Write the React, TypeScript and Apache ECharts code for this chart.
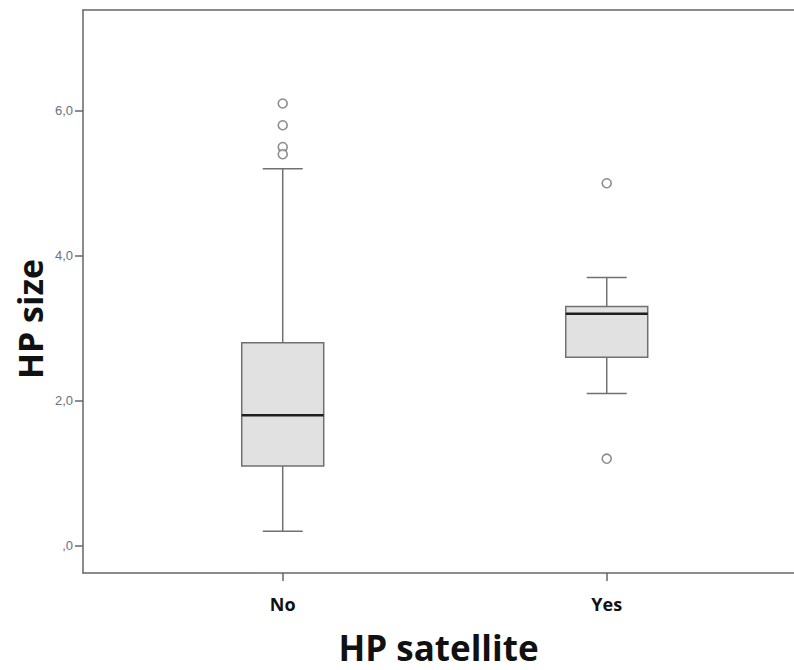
import React, { useEffect, useRef } from "react";
import * as echarts from "echarts";

const categories = ["No", "Yes"];
const whiskerLow = [0.2, 2.1];
const quartile1 = [1.1, 2.6];
const medians = [1.8, 3.2];
const quartile3 = [2.8, 3.3];
const whiskerHigh = [5.2, 3.7];
const outliersNo = [6.1, 5.8, 5.5, 5.4];
const outliersYes = [5.0, 1.2];
const yTickValues = [0, 2, 4, 6];
const yTickLabels = [",0", "2,0", "4,0", "6,0"];

export default function App() {
  const ref = useRef<HTMLDivElement>(null);

  useEffect(() => {
    if (!ref.current) return;
    const chart = echarts.init(ref.current, null, { renderer: "svg" });

    const boxData = categories.map((_, i) => [
      i,
      whiskerLow[i],
      quartile1[i],
      medians[i],
      quartile3[i],
      whiskerHigh[i],
    ]);
    const outlierData = [
      ...outliersNo.map((v) => [0, v]),
      ...outliersYes.map((v) => [1, v]),
    ];

    const axisColor = "#666666";
    const boxStroke = "#707070";
    const halfBox = 41;
    const halfCap = 20;

    chart.setOption({
      animation: false,
      backgroundColor: "#ffffff",
      grid: { left: 83, top: 10, right: 0, bottom: 97 },
      xAxis: [
        {
          type: "value",
          min: -0.6164,
          max: 1.578,
          splitLine: { show: false },
          axisLine: { show: true, onZero: false, lineStyle: { color: axisColor, width: 1.5 } },
          axisTick: {
            show: true,
            customValues: [0, 1],
            length: 8,
            lineStyle: { color: axisColor, width: 1.5 },
          },
          axisLabel: {
            customValues: [0, 1],
            formatter: (v: number) => categories[Math.round(v)] ?? "",
            margin: 22,
            fontFamily: "Open Sans",
            fontWeight: "bold",
            fontSize: 18,
            color: "#111111",
          },
          name: "HP satellite",
          nameLocation: "middle",
          nameGap: 57,
          nameTextStyle: {
            fontFamily: "Open Sans",
            fontWeight: "bold",
            fontSize: 35,
            color: "#111111",
          },
        },
        {
          type: "value",
          position: "top",
          min: -0.6164,
          max: 1.578,
          splitLine: { show: false },
          axisLine: { show: true, onZero: false, lineStyle: { color: axisColor, width: 1.5 } },
          axisTick: { show: false },
          axisLabel: { show: false },
        },
      ],
      yAxis: {
        type: "value",
        min: -0.377,
        max: 7.39,
        splitLine: { show: false },
        axisLine: { show: true, onZero: false, lineStyle: { color: axisColor, width: 1.5 } },
        axisTick: {
          show: true,
          customValues: yTickValues,
          length: 8,
          lineStyle: { color: axisColor, width: 1.5 },
        },
        axisLabel: {
          customValues: yTickValues,
          formatter: (v: number) => {
            const idx = yTickValues.indexOf(Math.round(v));
            return idx >= 0 ? yTickLabels[idx] : "";
          },
          margin: 10,
          fontFamily: "Liberation Sans",
          fontSize: 13,
          color: "#6b7080",
        },
      },
      graphic: [
        {
          type: "text",
          x: 30,
          y: 319,
          rotation: Math.PI / 2,
          style: {
            text: "HP size",
            font: "bold 34px 'Open Sans'",
            fill: "#111111",
            align: "center",
            verticalAlign: "middle",
          },
        },
      ],
      series: [
        {
          type: "custom",
          xAxisIndex: 0,
          yAxisIndex: 0,
          data: boxData,
          renderItem: (params: any, api: any) => {
            const x = api.value(0);
            const pLo = api.coord([x, api.value(1)]);
            const pQ1 = api.coord([x, api.value(2)]);
            const pMed = api.coord([x, api.value(3)]);
            const pQ3 = api.coord([x, api.value(4)]);
            const pHi = api.coord([x, api.value(5)]);
            const cx = pLo[0];
            const lineStyle = { stroke: boxStroke, lineWidth: 1.5 };
            return {
              type: "group",
              children: [
                { type: "line", shape: { x1: cx, y1: pHi[1], x2: cx, y2: pQ3[1] }, style: lineStyle },
                { type: "line", shape: { x1: cx, y1: pQ1[1], x2: cx, y2: pLo[1] }, style: lineStyle },
                { type: "line", shape: { x1: cx - halfCap, y1: pHi[1], x2: cx + halfCap, y2: pHi[1] }, style: lineStyle },
                { type: "line", shape: { x1: cx - halfCap, y1: pLo[1], x2: cx + halfCap, y2: pLo[1] }, style: lineStyle },
                {
                  type: "rect",
                  shape: { x: cx - halfBox, y: pQ3[1], width: halfBox * 2, height: pQ1[1] - pQ3[1] },
                  style: { fill: "#e1e1e1", stroke: boxStroke, lineWidth: 1.5 },
                },
                {
                  type: "line",
                  shape: { x1: cx - halfBox, y1: pMed[1], x2: cx + halfBox, y2: pMed[1] },
                  style: { stroke: "#1e1e1e", lineWidth: 2.5 },
                },
              ],
            };
          },
        },
        {
          type: "scatter",
          xAxisIndex: 0,
          yAxisIndex: 0,
          data: outlierData,
          symbol: "circle",
          symbolSize: 9,
          itemStyle: { color: "#ffffff", borderColor: "#707070", borderWidth: 1.6 },
        },
      ],
    });

    return () => chart.dispose();
  }, []);

  return (
    <div
      ref={ref}
      style={{ position: "fixed", left: 0, top: 0, width: 794, height: 670, background: "#fff" }}
    />
  );
}
